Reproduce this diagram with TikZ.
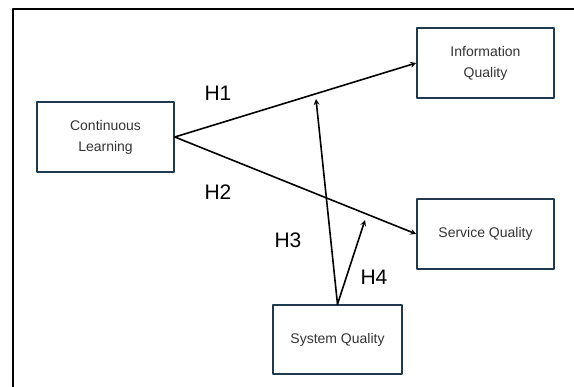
\documentclass[tikz,border=0pt]{standalone}
\usepackage{fontspec}
\setmainfont{Liberation Sans}
\definecolor{boxedge}{HTML}{1F3A4C}
\definecolor{boxtext}{HTML}{333333}
\begin{document}
\begin{tikzpicture}[>=stealth,line join=round, line cap=round, x=1pt, y=-1pt,font=\fontsize{14}{21}\selectfont,
		var/.style={draw=boxedge, line width=1.6pt, minimum width=137pt, minimum height=70pt, inner sep=0pt, align=center, text=boxtext},
		hyp/.style={font=\fontsize{21}{24}\selectfont},
		link/.style={->, line width=1.6pt}]
				\useasboundingbox (0,0) rectangle (574,387);
				\clip (0,0) rectangle (574,387);
				\draw[line width=2pt] (13,400) |- (590,9); 
				\node[var] (cl) at (105.5,137) {Continuous\\Learning};
				\node[var] (iq) at (485.5,63) {Information\\Quality};
				\node[var] (sq) at (485.5,234) {Service Quality};
				\node[var, minimum width=129pt, minimum height=69pt] (sys) at (337.5,339.5) {System Quality};
				\coordinate (h3end) at (316,99);
				\coordinate (h4end) at (365,220);
				\draw[link] (cl.east) -- (iq.west);
				\draw[link] (cl.east) -- (sq.west);
				\draw[link] (sys.north) -- (h3end);
				\draw[link] (sys.north) -- (h4end);
				\node[hyp] (h1) at (218,93) {H1};
				\node[hyp] (h2) at (218,192) {H2};
				\node[hyp] (h3) at (288,240) {H3};
				\node[hyp] (h4) at (374,277) {H4};
			\end{tikzpicture}
\end{document}
